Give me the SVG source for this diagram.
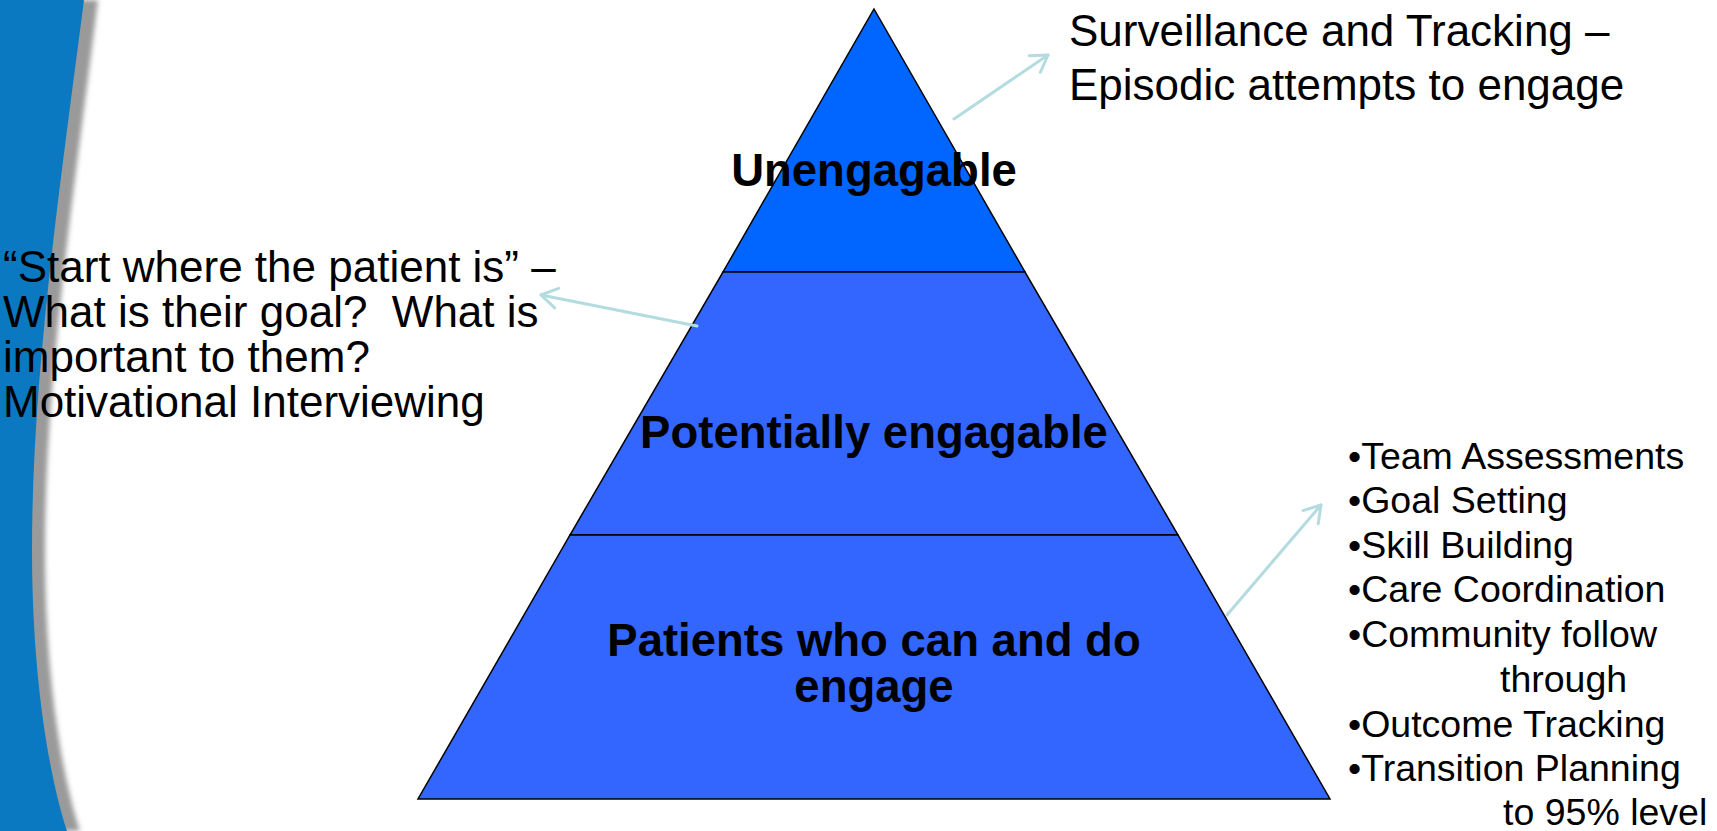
<svg xmlns="http://www.w3.org/2000/svg" width="1717" height="831" viewBox="0 0 1717 831">
  <style>
    .tier { stroke: #000000; stroke-width: 1.5; stroke-linejoin: miter; }
    .label { font-family: "Liberation Sans", Arial, sans-serif; font-weight: bold; font-size: 45.5px; fill: #000000; text-anchor: middle; }
    .note { font-family: "Liberation Sans", Arial, sans-serif; font-size: 44px; fill: #000000; white-space: pre; }
    .list { font-family: "Liberation Sans", Arial, sans-serif; font-size: 37.5px; fill: #000000; white-space: pre; }
    .link { fill: none; stroke: #B4DCE0; stroke-width: 3; stroke-linecap: round; marker-end: url(#openArrow); }
  </style>
  <defs>
    <marker id="openArrow" markerUnits="userSpaceOnUse" markerWidth="40" markerHeight="40" viewBox="-20 -20 40 40" refX="0" refY="0" orient="auto">
      <path d="M-16,-10 L0,0 L-16,10" fill="none" stroke="#B4DCE0" stroke-width="3" stroke-linecap="round" stroke-linejoin="round"/>
    </marker>
    <filter id="soft" x="-50%" y="-5%" width="200%" height="110%">
      <feGaussianBlur stdDeviation="2.5"/>
    </filter>
  </defs>

  <rect x="0" y="0" width="1717" height="831" fill="#FFFFFF"/>

  <!-- curved side band with its grey shadow edge -->
  <g id="side-band">
    <path d="M0,0 L98,0 C73,200 45,380 45,550 C45,680 63,780 80,831 L0,831 Z" fill="#9A9A9A" filter="url(#soft)"/>
    <path d="M0,0 L84,0 C58,200 32,380 32,550 C32,680 50,780 67,831 L0,831 Z" fill="#0A79C1"/>
  </g>

  <!-- pyramid tiers -->
  <g id="tier-top">
    <polygon class="tier" points="874,9 1025,272 723,272" fill="#0066FF"/>
    <text class="label" x="874" y="186">Unengagable</text>
  </g>
  <g id="tier-middle">
    <polygon class="tier" points="723,272 1025,272 1178,535 570,535" fill="#3366FF"/>
    <text class="label" x="874" y="448">Potentially engagable</text>
  </g>
  <g id="tier-bottom">
    <polygon class="tier" points="570,535 1178,535 1330,799 418,799" fill="#3366FF"/>
    <text class="label" x="874" y="656">Patients who can and do</text>
    <text class="label" x="874" y="702">engage</text>
  </g>

  <!-- annotations -->
  <g id="note-top">
    <text class="note" x="1069" y="46">Surveillance and Tracking –</text>
    <text class="note" x="1069" y="100">Episodic attempts to engage</text>
  </g>
  <g id="note-left">
    <text class="note" x="3" y="282">“Start where the patient is” –</text>
    <text class="note" x="3" y="327">What is their goal?  What is</text>
    <text class="note" x="3" y="372">important to them?</text>
    <text class="note" x="3" y="417">Motivational Interviewing</text>
  </g>
  <g id="note-right">
    <text class="list" x="1348" y="469">•Team Assessments</text>
    <text class="list" x="1348" y="513">•Goal Setting</text>
    <text class="list" x="1348" y="558">•Skill Building</text>
    <text class="list" x="1348" y="602">•Care Coordination</text>
    <text class="list" x="1348" y="647">•Community follow</text>
    <text class="list" x="1500" y="692">through</text>
    <text class="list" x="1348" y="737">•Outcome Tracking</text>
    <text class="list" x="1348" y="781">•Transition Planning</text>
    <text class="list" x="1503" y="825">to 95% level</text>
  </g>

  <!-- connectors -->
  <g id="connectors">
    <line class="link" x1="954" y1="119" x2="1048" y2="55"/>
    <line class="link" x1="697" y1="326" x2="541" y2="295"/>
    <line class="link" x1="1227" y1="615" x2="1321" y2="505"/>
  </g>
</svg>
